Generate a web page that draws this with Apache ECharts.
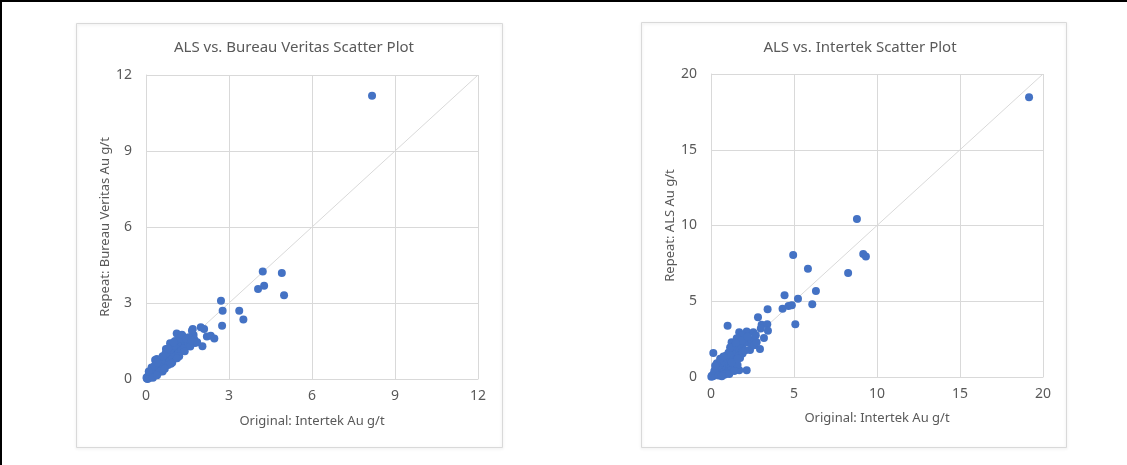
<!DOCTYPE html>
<html>
<head>
<meta charset="utf-8">
<script src="https://cdn.jsdelivr.net/npm/echarts@6/dist/echarts.min.js"></script>
<style>
  html, body { margin: 0; padding: 0; background: #fff; }
  #main { width: 1127px; height: 465px; }
</style>
</head>
<body>
<div id="main"></div>
<script>
// left chart: ALS vs. Bureau Veritas
var bvTitle = 'ALS vs. Bureau Veritas Scatter Plot';
var bvXName = 'Original: Intertek Au g/t';
var bvYName = 'Repeat: Bureau Veritas Au g/t';
var bvTicks = [0, 3, 6, 9, 12];
var bvPoints = [
  [8.17, 11.18], [4.22, 4.24], [4.91, 4.18], [4.27, 3.68], [4.05, 3.55], [4.99, 3.31],
  [2.71, 3.09], [2.77, 2.69], [3.37, 2.69], [3.52, 2.35], [2.75, 2.10],
  [1.69, 1.97], [1.98, 2.04], [2.10, 1.97], [2.20, 1.68], [2.34, 1.71], [2.47, 1.60],
  [2.04, 1.29], [1.77, 1.42], [1.72, 1.74], [1.66, 1.90], [1.11, 1.80], [1.35, 1.67],
  [1.05, 1.50], [0.87, 1.41], [0.72, 1.18], [0.39, 0.79], [0.33, 0.75],
  [1.50, 1.50], [1.45, 1.40], [1.40, 1.30], [1.30, 1.45], [1.25, 1.30], [1.20, 1.15],
  [1.15, 1.35], [1.10, 1.20], [1.05, 1.05], [1.00, 1.10], [0.98, 0.95], [0.95, 1.25],
  [0.92, 0.85], [0.90, 1.00], [0.85, 0.90], [0.82, 1.05], [0.80, 0.75], [0.78, 0.85],
  [0.75, 0.95], [0.72, 0.70], [0.70, 0.80], [0.68, 0.62], [0.65, 0.72], [0.62, 0.85],
  [0.60, 0.55], [0.58, 0.65], [0.55, 0.50], [0.52, 0.60], [0.50, 0.45], [0.48, 0.68],
  [0.45, 0.40], [0.42, 0.52], [0.40, 0.35], [0.38, 0.45], [0.35, 0.30], [0.33, 0.40],
  [0.30, 0.25], [0.28, 0.35], [0.25, 0.20], [0.22, 0.30], [0.20, 0.15], [0.18, 0.25],
  [0.15, 0.10], [0.12, 0.18], [0.10, 0.08], [0.08, 0.12], [0.05, 0.05], [0.03, 0.02],
  [0.06, 0.00], [0.02, 0.06], [0.14, 0.05], [0.24, 0.12], [0.36, 0.18], [0.46, 0.28],
  [0.56, 0.38], [0.66, 0.48], [0.76, 0.60], [0.86, 0.70], [0.96, 0.80], [1.08, 0.92],
  [1.18, 1.02], [1.28, 1.12], [1.38, 1.22], [1.55, 1.35], [1.62, 1.45], [0.60, 0.30],
  [0.45, 0.55], [0.35, 0.55], [0.25, 0.40], [0.15, 0.30], [0.55, 0.75], [0.70, 1.00],
  [0.88, 1.15], [1.00, 1.30], [1.18, 1.55], [1.28, 1.58], [0.95, 0.65], [0.80, 0.55],
  [0.30, 0.50], [0.50, 0.30], [0.60, 0.90], [0.90, 0.60], [1.20, 0.90], [1.40, 1.10],
  [1.60, 1.28], [0.40, 0.65], [0.80, 1.20], [1.00, 1.45], [1.30, 1.75], [1.55, 1.65],
  [1.75, 1.55], [0.20, 0.45], [0.10, 0.30], [0.25, 0.05], [0.40, 0.15], [1.45, 1.58],
  [1.65, 1.52], [1.85, 1.45], [0.68, 0.40], [1.12, 0.82]
];

// right chart: ALS vs. Intertek
var itTitle = 'ALS vs. Intertek Scatter Plot';
var itXName = 'Original: Intertek Au g/t';
var itYName = 'Repeat: ALS Au g/t';
var itTicks = [0, 5, 10, 15, 20];
var itPoints = [
  [19.16, 18.46], [8.79, 10.43], [9.17, 8.12], [9.33, 7.96], [8.26, 6.86],
  [4.95, 8.05], [5.84, 7.15], [6.32, 5.68], [5.24, 5.17], [6.10, 4.80],
  [4.43, 5.39], [4.31, 4.51], [4.67, 4.69], [4.87, 4.73], [5.08, 3.48],
  [3.41, 4.47], [2.83, 3.94], [3.05, 3.45], [3.39, 3.48], [3.43, 3.06],
  [3.19, 2.57], [2.95, 1.85], [1.00, 3.39], [0.14, 1.58], [1.24, 2.29],
  [1.70, 2.95], [2.15, 3.01], [2.55, 2.95], [2.31, 2.24], [2.15, 0.44], [1.70, 0.44],
  [2.45, 2.45], [2.35, 1.78], [2.05, 2.60], [1.85, 2.75], [1.60, 2.40], [1.95, 2.20],
  [1.80, 1.90], [1.65, 1.70], [1.55, 2.05], [1.45, 1.50], [1.40, 1.85], [1.30, 1.30],
  [1.25, 1.60], [1.20, 1.10], [1.15, 1.45], [1.10, 0.90], [1.05, 1.25], [1.00, 0.75],
  [0.95, 1.10], [0.90, 0.60], [0.85, 1.00], [0.80, 0.50], [0.75, 0.85], [0.70, 0.40],
  [0.65, 0.70], [0.60, 0.30], [0.55, 0.55], [0.50, 0.25], [0.45, 0.45], [0.40, 0.20],
  [0.35, 0.35], [0.30, 0.15], [0.25, 0.25], [0.20, 0.10], [0.15, 0.18], [0.10, 0.05],
  [0.05, 0.08], [0.02, 0.02], [0.30, 0.55], [0.50, 0.80], [0.70, 1.15], [0.90, 1.40],
  [1.05, 1.60], [1.35, 0.70], [1.50, 1.00], [1.75, 1.25], [1.90, 1.55], [2.05, 1.75],
  [2.60, 2.10], [2.75, 2.30], [1.20, 0.45], [0.95, 0.25], [0.80, 0.15], [1.60, 0.80],
  [0.60, 0.95], [0.40, 0.70], [1.30, 2.00], [1.55, 2.55], [1.15, 1.95], [0.85, 0.20],
  [0.20, 0.40], [0.45, 0.10], [0.65, 0.05], [0.35, 0.90], [0.55, 1.20], [0.75, 1.35],
  [1.10, 0.20], [1.40, 0.40], [1.25, 0.95], [1.60, 1.20], [1.85, 2.40], [2.20, 2.65],
  [2.70, 2.75], [3.00, 3.20], [1.50, 2.25], [0.25, 0.75]
];

var gray = '#595959';
var gridColor = '#d9d9d9';
var blue = '#4472c4';
var font = "'Noto Sans', sans-serif";

function axisFor(ticks, name, gap, isX) {
  return {
    type: 'value',
    min: ticks[0],
    max: ticks[ticks.length - 1],
    interval: ticks[1] - ticks[0],
    name: name,
    nameLocation: 'middle',
    nameGap: gap,
    nameTextStyle: { color: gray, fontSize: 13, fontFamily: font },
    axisLine: { show: true, lineStyle: { color: gridColor } },
    axisTick: { show: false },
    axisLabel: { color: gray, fontSize: 14, fontFamily: font, margin: isX ? 10 : 14 },
    splitLine: { show: true, lineStyle: { color: gridColor } }
  };
}

var chart = echarts.init(document.getElementById('main'));
chart.setOption({
  animation: false,
  backgroundColor: '#fff',
  title: [
    { text: bvTitle, left: 289, top: 35, textAlign: 'center',
      textStyle: { color: gray, fontSize: 15, fontWeight: 'normal', fontFamily: font } },
    { text: itTitle, left: 855, top: 35, textAlign: 'center',
      textStyle: { color: gray, fontSize: 15, fontWeight: 'normal', fontFamily: font } }
  ],
  graphic: [
    { type: 'rect', shape: { x: 0, y: 0, width: 1127, height: 2 }, style: { fill: '#000' } },
    { type: 'rect', shape: { x: 0, y: 0, width: 2, height: 465 }, style: { fill: '#000' } },
    { type: 'rect', shape: { x: 76.5, y: 23.5, width: 426, height: 424 },
      style: { fill: 'none', stroke: '#d9d9d9', lineWidth: 1, shadowBlur: 3, shadowColor: 'rgba(0,0,0,0.12)', shadowOffsetY: 1 } },
    { type: 'rect', shape: { x: 641.5, y: 22.5, width: 425, height: 425 },
      style: { fill: 'none', stroke: '#d9d9d9', lineWidth: 1, shadowBlur: 3, shadowColor: 'rgba(0,0,0,0.12)', shadowOffsetY: 1 } }
  ],
  grid: [
    { left: 146, top: 75, width: 332, height: 304 },
    { left: 711, top: 74, width: 332, height: 303 }
  ],
  xAxis: [
    Object.assign(axisFor(bvTicks, bvXName, 36, true), { gridIndex: 0 }),
    Object.assign(axisFor(itTicks, itXName, 35, true), { gridIndex: 1 })
  ],
  yAxis: [
    Object.assign(axisFor(bvTicks, bvYName, 34, false), { gridIndex: 0 }),
    Object.assign(axisFor(itTicks, itYName, 33, false), { gridIndex: 1 })
  ],
  series: [
    { type: 'line', xAxisIndex: 0, yAxisIndex: 0, symbol: 'none', silent: true, z: 1,
      data: [[bvTicks[0], bvTicks[0]], [bvTicks[bvTicks.length - 1], bvTicks[bvTicks.length - 1]]],
      lineStyle: { color: gridColor, width: 1 } },
    { type: 'scatter', xAxisIndex: 0, yAxisIndex: 0, symbolSize: 8, z: 5,
      itemStyle: { color: blue, opacity: 1 }, data: bvPoints },
    { type: 'line', xAxisIndex: 1, yAxisIndex: 1, symbol: 'none', silent: true, z: 1,
      data: [[itTicks[0], itTicks[0]], [itTicks[itTicks.length - 1], itTicks[itTicks.length - 1]]],
      lineStyle: { color: gridColor, width: 1 } },
    { type: 'scatter', xAxisIndex: 1, yAxisIndex: 1, symbolSize: 8, z: 5,
      itemStyle: { color: blue, opacity: 1 }, data: itPoints }
  ]
});
window.addEventListener('resize', function () { chart.resize(); });
</script>
</body>
</html>
